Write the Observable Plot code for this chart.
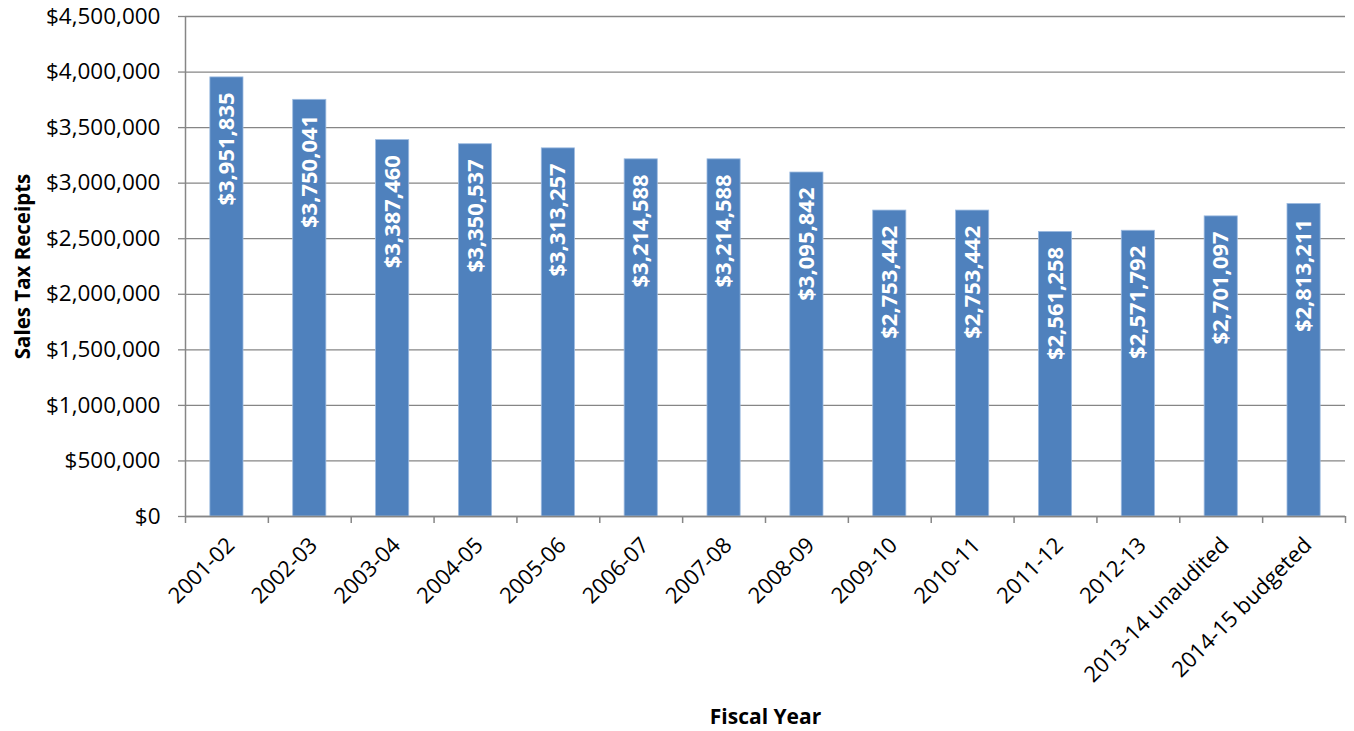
<!DOCTYPE html>
<html>
<head>
<meta charset="utf-8">
<script src="https://cdn.jsdelivr.net/npm/d3@7"></script>
<script src="https://cdn.jsdelivr.net/npm/@observablehq/plot@0.6"></script>
<style>
  html, body { margin: 0; padding: 0; background: #fff; }
  svg { display: block; }
</style>
</head>
<body>
<div id="chart"></div>
<script>
// Sales tax receipts by fiscal year
const years = [
  "2001-02", "2002-03", "2003-04", "2004-05", "2005-06", "2006-07", "2007-08",
  "2008-09", "2009-10", "2010-11", "2011-12", "2012-13",
  "2013-14 unaudited", "2014-15 budgeted"
];
const receipts = [
  3951835, 3750041, 3387460, 3350537, 3313257, 3214588, 3214588,
  3095842, 2753442, 2753442, 2561258, 2571792, 2701097, 2813211
];
const yTicks = [0, 500000, 1000000, 1500000, 2000000, 2500000, 3000000, 3500000, 4000000, 4500000];

const rows = years.map((year, i) => ({year, value: receipts[i]}));

const width = 1354, height = 731;
const marginLeft = 185, marginRight = 9, marginTop = 16, marginBottom = 215;
const step = (width - marginLeft - marginRight) / years.length;
const money = d3.format("$,");
const axisColor = "#868686";
const font = "'Open Sans', sans-serif";

const chart = Plot.plot({
  width, height, marginLeft, marginRight, marginTop, marginBottom,
  style: {fontFamily: font, background: "#fff"},
  x: {domain: years, paddingInner: 0.6, paddingOuter: 0.3, round: false, label: null, axis: null},
  y: {domain: [0, 4500000], label: null, axis: null},
  marks: [
    Plot.gridY(yTicks, {stroke: axisColor, strokeOpacity: 1, strokeWidth: 1.3}),
    Plot.axisY(yTicks, {
      tickFormat: money, tickSize: 7, tickPadding: 18, fontSize: 22.5,
      stroke: axisColor, strokeWidth: 1.3, fill: "#000", label: null
    }),
    Plot.barY(rows, {x: "year", y: "value", fill: "#4F81BD", stroke: "#9DBBE0", strokeWidth: 0.8}),
    Plot.text(rows, {
      x: "year", y: "value", text: d => money(d.value),
      rotate: -90, textAnchor: "end", lineAnchor: "middle", dy: 15,
      fill: "#fff", fontWeight: "bold", fontSize: 22
    }),
    // vertical axis line
    Plot.ruleX(years.slice(0, 1), {x: d => d, dx: -step / 2, stroke: axisColor, strokeWidth: 1.5}),
    // x axis baseline
    Plot.ruleY([0], {stroke: axisColor, strokeWidth: 1.5}),
    // category boundary ticks
    Plot.ruleX(years, {x: d => d, y1: 0, y2: 0, insetBottom: -7, dx: -step / 2, stroke: axisColor, strokeWidth: 1.5}),
    Plot.ruleX(years.slice(-1), {x: d => d, y1: 0, y2: 0, insetBottom: -7, dx: step / 2, stroke: axisColor, strokeWidth: 1.5}),
    Plot.axisX({
      tickRotate: -45, tickSize: 0, tickPadding: 25, dx: 4, fontSize: 22, fill: "#000", label: null
    }),
    // axis titles
    Plot.text(["Fiscal Year"], {
      frameAnchor: "bottom", dy: 207, text: d => d, fontWeight: "bold", fontSize: 21, fill: "#000"
    }),
    Plot.text(["Sales Tax Receipts"], {
      frameAnchor: "left", textAnchor: "middle", dx: -162, rotate: -90, text: d => d,
      fontWeight: "bold", fontSize: 20.5, fill: "#000"
    })
  ]
});

document.getElementById("chart").append(chart);
</script>
</body>
</html>
